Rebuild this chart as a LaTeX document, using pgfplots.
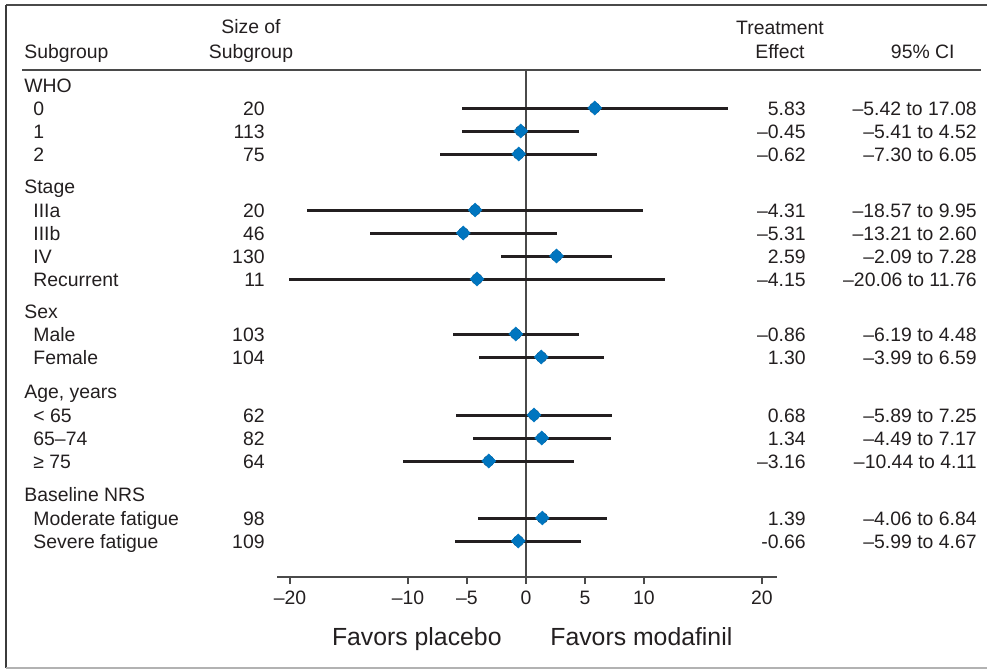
\documentclass[border=0pt]{standalone}
\usepackage{pgfplots}
\pgfplotsset{compat=1.18}
\usepackage{pgfplotstable}
\usepackage{fontspec}
\setmainfont{Liberation Sans}
\definecolor{txt}{HTML}{231F20}
\definecolor{diam}{HTML}{0075BF}
\definecolor{frm}{HTML}{4A4A4A}

\pgfplotstableread{
y eff lo hi
-108 5.83 -5.42 17.08
-131 -0.45 -5.41 4.52
-154 -0.62 -7.30 6.05
-210 -4.31 -18.57 9.95
-233 -5.31 -13.21 2.60
-256 2.59 -2.09 7.28
-279 -4.15 -20.06 11.76
-334 -0.86 -6.19 4.48
-357 1.30 -3.99 6.59
-415 0.68 -5.89 7.25
-438 1.34 -4.49 7.17
-461 -3.16 -10.44 4.11
-518 1.39 -4.06 6.84
-541 -0.66 -5.99 4.67
}\data

\begin{document}
\begin{tikzpicture}[font=\fontsize{9.7pt}{11pt}\selectfont]
\useasboundingbox (0,0) rectangle (493.5pt,-334.5pt);
\begin{axis}[
  at={(138.5pt,-288.5pt)}, anchor=south west,
  x=5.9pt, y=0.5pt,
  xmin=-21.1, xmax=21.3, ymin=-577, ymax=-70,
  axis x line*=bottom, axis y line=none,
  axis line style={line width=1pt, frm, -},
  xtick={-20,-10,-5,0,5,10,20},
  xticklabels={–20,–10,–5,0,5,10,20},
  tick align=outside, major tick length=3.5pt,
  tick style={line width=1pt, frm},
  xticklabel style={font=\fontsize{9.7pt}{11pt}\selectfont, text=txt, inner sep=0pt, yshift=-3.5pt},
  ytick=\empty,
  clip=false,
]
\addplot[frm, line width=1pt, mark=none] coordinates {(0,-70) (0,-577)};
\addplot[only marks, mark=none, black, line width=1.5pt,
  error bars/.cd, x dir=both, x explicit, error mark=none,
  error bar style={line width=1.5pt, color=txt}]
  table[x=eff, y=y, x error minus expr=\thisrow{eff}-\thisrow{lo}, x error plus expr=\thisrow{hi}-\thisrow{eff}] {\data};
\addplot[only marks, mark=square*, mark size=2.5pt,
  mark options={rotate=45, fill=diam, draw=diam, line width=0.2pt}]
  table[x=eff, y=y] {\data};
\end{axis}
\begin{scope}[x=0.5pt, y=-0.5pt, every node/.style={text=txt, inner sep=0pt}]
% frame
\draw[frm, line width=1pt] (6,5) -- (987,5);
\draw[frm!80!black, line width=1.3pt] (6,4.5) -- (6,668);
\draw[black!30, line width=1.2pt] (6,668) -- (987,668);
\draw[frm, line width=1pt] (22,70) -- (981,70);
% headers
\node[anchor=base west] at (24,58) {Subgroup};
\node[anchor=base] at (251,33) {Size of};
\node[anchor=base] at (251,58) {Subgroup};
\node[anchor=base] at (780,34) {Treatment};
\node[anchor=base] at (780,58) {Effect};
\node[anchor=base east] at (955,58) {95\% CI};
% group headers
\foreach \yy/\lab in {92/WHO, 193/Stage, 318/Sex, 398/{Age, years}, 501/Baseline NRS}
  \node[anchor=base west] at (24,\yy) {\lab};
% rows
\foreach \yy/\lab/\n/\e/\ci in {
  115/0/20/5.83/{–5.42 to 17.08},
  138/1/113/–0.45/{–5.41 to 4.52},
  161/2/75/–0.62/{–7.30 to 6.05},
  217/IIIa/20/–4.31/{–18.57 to 9.95},
  240/IIIb/46/–5.31/{–13.21 to 2.60},
  263/IV/130/2.59/{–2.09 to 7.28},
  286/Recurrent/11/–4.15/{–20.06 to 11.76},
  341/Male/103/–0.86/{–6.19 to 4.48},
  364/Female/104/1.30/{–3.99 to 6.59},
  422/{< 65}/62/0.68/{–5.89 to 7.25},
  445/65–74/82/1.34/{–4.49 to 7.17},
  468/{≥ 75}/64/–3.16/{–10.44 to 4.11},
  525/Moderate fatigue/98/1.39/{–4.06 to 6.84},
  548/Severe fatigue/109/-0.66/{–5.99 to 4.67}}{
  \node[anchor=base west] at (33,\yy) {\lab};
  \node[anchor=base east] at (265,\yy) {\n};
  \node[anchor=base east] at (806,\yy) {\e};
  \node[anchor=base east] at (977,\yy) {\ci};
}
\node[anchor=base east, font=\fontsize{12.4pt}{14pt}\selectfont] at (502,645) {Favors placebo};
\node[anchor=base west, font=\fontsize{12.4pt}{14pt}\selectfont] at (550,645) {Favors modafinil};
\end{scope}
\end{tikzpicture}
\end{document}
